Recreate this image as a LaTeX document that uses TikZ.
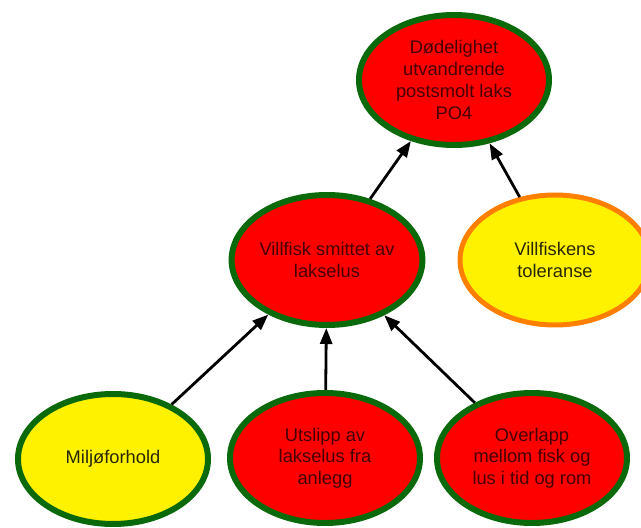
\documentclass[tikz,border=0pt]{standalone}
\usepackage{fontspec}
\setmainfont{Liberation Sans}
\usetikzlibrary{shapes.geometric,arrows.meta}
\definecolor{bred}{RGB}{255,0,0}
\definecolor{bgreen}{RGB}{10,105,10}
\definecolor{byellow}{RGB}{255,242,0}
\definecolor{borange}{RGB}{255,128,0}
\definecolor{tred}{RGB}{70,0,0}
\definecolor{tyel}{RGB}{40,40,0}
\begin{document}
\begin{tikzpicture}[x=1pt,y=1pt,
  ell/.style={ellipse, minimum width=190pt, minimum height=130pt, inner sep=0pt,
    line width=6pt, align=center, font=\fontsize{18.3}{21.7}\selectfont},
  redell/.style={ell, draw=bgreen, fill=bred, text=tred},
  yelgreen/.style={ell, draw=bgreen, fill=byellow, text=tyel},
  yelorange/.style={ell, draw=borange, line width=5pt, fill=byellow, text=tyel},
  conn/.style={line width=2.8pt, -{Triangle[length=16pt,width=12pt]}}]
\useasboundingbox (0,0) rectangle (641,528);
\node[redell] (top) at (454,448) {Dødelighet\\utvandrende\\postsmolt laks\\PO4};
\node[redell] (mid) at (327,268) {Villfisk smittet av\\lakselus};
\node[yelorange] (tol) at (555,268) {Villfiskens\\toleranse};
\node[yelgreen] (milj) at (113,69) {Miljøforhold};
\node[redell] (utsl) at (325,70) {Utslipp av\\lakselus fra\\anlegg};
\node[redell] (over) at (532,70) {Overlapp\\mellom fisk og\\lus i tid og rom};
\draw[conn] (mid) -- (top);
\draw[conn] (tol) -- (top);
\draw[conn] (milj) -- (mid);
\draw[conn] (utsl) -- (mid);
\draw[conn] (over) -- (mid);
\end{tikzpicture}
\end{document}
